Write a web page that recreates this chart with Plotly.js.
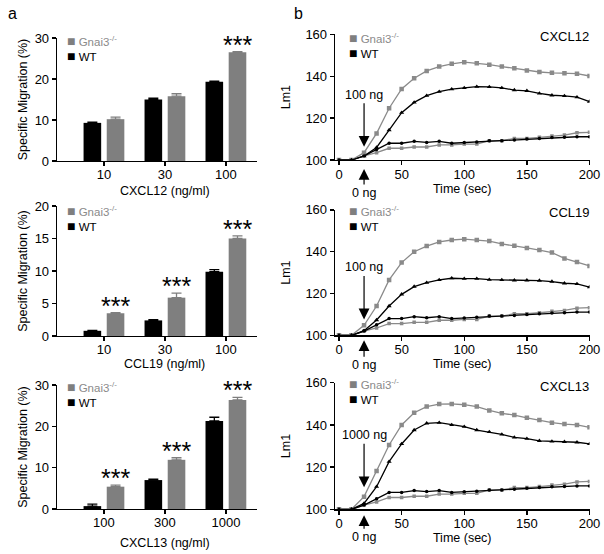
<!DOCTYPE html>
<html>
<head>
<meta charset="utf-8">
<script src="https://cdn.plot.ly/plotly-3.0.1.min.js"></script>
<style>html,body{margin:0;padding:0;background:#fff;}#chart{width:604px;height:554px;}</style>
</head>
<body>
<div id="chart"></div>
<script>
// ---------- DATA ----------
const cxcl12Doses = ['10', '30', '100'];
const ccl19Doses = ['10', '30', '100'];
const cxcl13Doses = ['100', '300', '1000'];

const cxcl12WT = [9.3, 15.0, 19.3];
const cxcl12WTErr = [0.2, 0.3, 0.2];
const cxcl12Gnai3 = [10.2, 15.8, 26.5];
const cxcl12Gnai3Err = [0.5, 0.6, 0.2];
const cxcl12Sig = ['', '', '***'];

const ccl19WT = [0.8, 2.4, 9.9];
const ccl19WTErr = [0.05, 0.1, 0.3];
const ccl19Gnai3 = [3.5, 5.9, 15.0];
const ccl19Gnai3Err = [0.1, 0.7, 0.4];
const ccl19Sig = ['***', '***', '***'];

const cxcl13WT = [0.7, 7.0, 21.3];
const cxcl13WTErr = [0.5, 0.2, 0.9];
const cxcl13Gnai3 = [5.4, 11.9, 26.4];
const cxcl13Gnai3Err = [0.4, 0.5, 0.6];
const cxcl13Sig = ['***', '***', '***'];

const timeSec = [0, 10, 20, 30, 40, 50, 60, 70, 80, 90, 100, 110, 120, 130, 140, 150, 160, 170, 180, 190, 200];

const cxcl12Gnai3Lm1 = [100, 100, 103.5, 112.7, 124.7, 133.9, 139.0, 142.5, 144.6, 145.9, 146.7, 146.2, 145.5, 144.6, 143.8, 142.7, 142.0, 141.6, 141.4, 141.2, 140.1];
const cxcl12WTLm1 = [100, 100, 101.9, 106.0, 114.3, 122.6, 127.5, 130.7, 132.6, 133.8, 134.4, 135.0, 134.9, 134.4, 133.4, 133.0, 131.8, 130.9, 130.6, 130.0, 127.9];

const ccl19Gnai3Lm1 = [100, 100, 104.8, 114.0, 126.5, 134.8, 140.0, 142.7, 144.7, 145.6, 146.0, 145.6, 145.1, 143.7, 142.9, 141.8, 140.8, 139.6, 136.8, 135.1, 133.2];
const ccl19WTLm1 = [100, 100, 102.2, 107.3, 114.0, 119.6, 123.3, 125.2, 126.5, 127.3, 127.1, 127.1, 126.6, 126.5, 126.3, 126.3, 126.2, 125.7, 124.9, 124.6, 123.1];

const cxcl13Gnai3Lm1 = [100, 100, 106.0, 118.2, 130.5, 140.0, 145.8, 148.7, 149.9, 150.0, 149.6, 148.7, 146.9, 145.5, 144.7, 143.4, 142.3, 141.1, 140.4, 140.0, 138.9];
const cxcl13WTLm1 = [100, 100, 102.8, 110.7, 122.6, 131.0, 137.6, 140.8, 141.1, 140.0, 139.2, 137.6, 136.7, 135.5, 134.1, 133.5, 132.5, 132.2, 132.0, 131.8, 131.0];

const wtControlLm1 = [100, 100, 102.0, 105.0, 108.0, 108.0, 108.9, 108.4, 108.9, 108.0, 108.3, 108.6, 109.2, 109.2, 109.5, 110.0, 110.3, 110.7, 110.8, 111.1, 111.1];
const gnai3ControlLm1 = [100, 100, 102.0, 103.5, 105.6, 105.6, 106.2, 106.2, 107.2, 107.2, 107.6, 107.6, 109.2, 109.2, 110.3, 110.3, 110.8, 111.5, 111.9, 113.0, 113.2];

const barYTicks = [[0, 10, 20, 30], [0, 5, 10, 15, 20], [0, 10, 20, 30]];
const lineYTicks = [100, 120, 140, 160];
const lineXTicks = [0, 50, 100, 150, 200];

// ---------- STYLE / LAYOUT HELPERS ----------
const W = 604, H = 554;
const px = v => v / W;
const py = v => (H - v) / H;
const GRAY = '#7f7f7f';
const LGRAY = '#8a8a8a';
const FONT = 'Liberation Sans, Arial, Helvetica, sans-serif';

const traces = [];
const annotations = [];

function axisBase(extra) {
  return Object.assign({
    showline: true, linecolor: '#000', linewidth: 1.3,
    ticks: 'outside', ticklen: 4, tickwidth: 1.3, tickcolor: '#000',
    showgrid: false, zeroline: false,
    tickfont: {size: 13, color: '#000', family: FONT}
  }, extra);
}

const legendText = '<span style="color:#7f7f7f;font-size:14px">■</span><span style="color:#8a8a8a"> Gnai3<sup>-/-</sup></span><br><span style="font-size:14px">■</span> WT';

// bar panels
const barPanels = [
  {doses: cxcl12Doses, wt: cxcl12WT, wtErr: cxcl12WTErr, g: cxcl12Gnai3, gErr: cxcl12Gnai3Err, sig: cxcl12Sig, name: 'CXCL12 (ng/ml)', ax: '', yr: [0, 30], titleY: 191},
  {doses: ccl19Doses, wt: ccl19WT, wtErr: ccl19WTErr, g: ccl19Gnai3, gErr: ccl19Gnai3Err, sig: ccl19Sig, name: 'CCL19 (ng/ml)', ax: '2', yr: [0, 20], titleY: 364},
  {doses: cxcl13Doses, wt: cxcl13WT, wtErr: cxcl13WTErr, g: cxcl13Gnai3, gErr: cxcl13Gnai3Err, sig: cxcl13Sig, name: 'CXCL13 (ng/ml)', ax: '3', yr: [0, 30], titleY: 543}
];
const barDomainsY = [[161, 38], [336, 206], [509, 385]];
const barLegendY = [48, 218, 395];

const layout = {
  width: W, height: H,
  margin: {l: 0, r: 0, t: 0, b: 0},
  paper_bgcolor: '#fff', plot_bgcolor: '#fff',
  showlegend: false,
  barmode: 'group', bargap: 0.24, bargroupgap: 0.24,
  font: {family: FONT, color: '#000', size: 13}
};

barPanels.forEach((p, i) => {
  const xa = 'x' + p.ax, ya = 'y' + p.ax;
  traces.push({
    type: 'bar', name: 'WT', x: p.doses, y: p.wt, xaxis: xa, yaxis: ya,
    marker: {color: '#000'},
    error_y: {type: 'data', symmetric: false, array: p.wtErr, arrayminus: p.wtErr.map(() => 0), color: '#000', thickness: 1.3, width: 5}
  });
  traces.push({
    type: 'bar', name: 'Gnai3-/-', x: p.doses, y: p.g, xaxis: xa, yaxis: ya,
    marker: {color: GRAY},
    error_y: {type: 'data', symmetric: false, array: p.gErr, arrayminus: p.gErr.map(() => 0), color: GRAY, thickness: 1.3, width: 5}
  });
  const d = barDomainsY[i];
  layout['xaxis' + p.ax] = axisBase({
    type: 'category', domain: [px(57), px(257)], range: [-0.77, 2.51], anchor: ya,
    tickvals: p.doses, ticktext: p.doses, ticklabelstandoff: -3
  });
  layout['yaxis' + p.ax] = axisBase({
    domain: [py(d[0]), py(d[1])], range: p.yr, anchor: xa, tickvals: barYTicks[i],
    title: {text: 'Specific Migration (%)', font: {size: 12.5, family: FONT}, standoff: 4}
  });
  // x title
  annotations.push({xref: xa, yref: 'paper', x: 1, y: py(p.titleY), yanchor: 'middle', xanchor: 'center',
    text: p.name, showarrow: false, font: {size: 12.5}});
  // significance stars
  p.sig.forEach((s, k) => {
    if (!s) return;
    annotations.push({xref: xa, yref: ya, x: k + 0.19, y: p.g[k] + p.gErr[k], yanchor: 'middle', yshift: 7,
      text: s, showarrow: false, font: {size: 25, color: '#000'}});
  });
  // legend
  annotations.push({xref: 'paper', yref: 'paper', x: px(65), y: py(barLegendY[i]), xanchor: 'left', yanchor: 'middle', align: 'left',
    showarrow: false, text: legendText, font: {size: 11.5, color: '#000'}});
});

// line panels
const linePanels = [
  {g: cxcl12Gnai3Lm1, wt: cxcl12WTLm1, label: 'CXCL12', dose: '100 ng', ax: '4', dom: [160, 34.3], tip: 106.3, upShift: -9, upAy: 24, labY: 37, legY: 45},
  {g: ccl19Gnai3Lm1, wt: ccl19WTLm1, label: 'CCL19', dose: '100 ng', ax: '5', dom: [335.3, 209.9], tip: 107.6, upShift: -5, upAy: 25, labY: 212, legY: 219},
  {g: cxcl13Gnai3Lm1, wt: cxcl13WTLm1, label: 'CXCL13', dose: '1000 ng', ax: '6', dom: [509.3, 382.8], tip: 110.4, upShift: -6, upAy: 22, labY: 387, legY: 391}
];

linePanels.forEach(p => {
  const xa = 'x' + p.ax, ya = 'y' + p.ax;
  traces.push({type: 'scatter', mode: 'lines+markers', name: 'Gnai3-/- control', x: timeSec, y: gnai3ControlLm1, xaxis: xa, yaxis: ya,
    line: {color: LGRAY, width: 1.3}, marker: {symbol: 'square', size: 3.5, color: LGRAY}});
  traces.push({type: 'scatter', mode: 'lines+markers', name: 'WT control', x: timeSec, y: wtControlLm1, xaxis: xa, yaxis: ya,
    line: {color: '#000', width: 1.3}, marker: {symbol: 'circle', size: 3.5, color: '#000'}});
  traces.push({type: 'scatter', mode: 'lines+markers', name: 'Gnai3-/-', x: timeSec, y: p.g, xaxis: xa, yaxis: ya,
    line: {color: LGRAY, width: 1.3}, marker: {symbol: 'square', size: 4.5, color: LGRAY}});
  traces.push({type: 'scatter', mode: 'lines+markers', name: 'WT', x: timeSec, y: p.wt, xaxis: xa, yaxis: ya,
    line: {color: '#000', width: 1.3}, marker: {symbol: 'triangle-up', size: 4.5, color: '#000'}});
  layout['xaxis' + p.ax] = axisBase({
    domain: [px(335), px(589.5)], range: [-3.2, 200], anchor: ya, tickvals: lineXTicks, ticklabelstandoff: -2,
    title: {text: 'Time (sec)', font: {size: 12.5, family: FONT}, standoff: 2}
  });
  layout['yaxis' + p.ax] = axisBase({
    domain: [py(p.dom[0]), py(p.dom[1])], range: [100, 160], anchor: xa, tickvals: lineYTicks,
    title: {text: 'Lm1', font: {size: 12.5, family: FONT}, standoff: 12}
  });
  // chemokine label
  annotations.push({xref: 'paper', yref: 'paper', x: px(591), y: py(p.labY), xanchor: 'right', yanchor: 'middle',
    text: p.label, showarrow: false, font: {size: 13}});
  // stimulus arrow
  annotations.push({xref: xa, yref: ya, x: 20, y: p.tip, ax: 0, ay: -52, text: p.dose, showarrow: true,
    arrowhead: 2, arrowsize: 1.8, arrowwidth: 1.2, arrowcolor: '#000', font: {size: 12.5}});
  annotations.push({xref: xa, yref: ya, x: 20, y: 100, yshift: p.upShift, ax: 0, ay: p.upAy, text: '0 ng', showarrow: true,
    arrowhead: 2, arrowsize: 1.8, arrowwidth: 1.2, arrowcolor: '#000', font: {size: 12.5}});
  // legend
  annotations.push({xref: 'paper', yref: 'paper', x: px(347), y: py(p.legY), xanchor: 'left', yanchor: 'middle', align: 'left',
    showarrow: false, text: legendText, font: {size: 11.5, color: '#000'}});
});

// panel letters
annotations.push({xref: 'paper', yref: 'paper', x: px(6), y: py(13), xanchor: 'left', yanchor: 'middle', showarrow: false, text: 'a', font: {size: 16}});
annotations.push({xref: 'paper', yref: 'paper', x: px(292), y: py(13), xanchor: 'left', yanchor: 'middle', showarrow: false, text: 'b', font: {size: 16}});

layout.annotations = annotations;

Plotly.newPlot('chart', traces, layout, {displayModeBar: false, staticPlot: true});
</script>
</body>
</html>
